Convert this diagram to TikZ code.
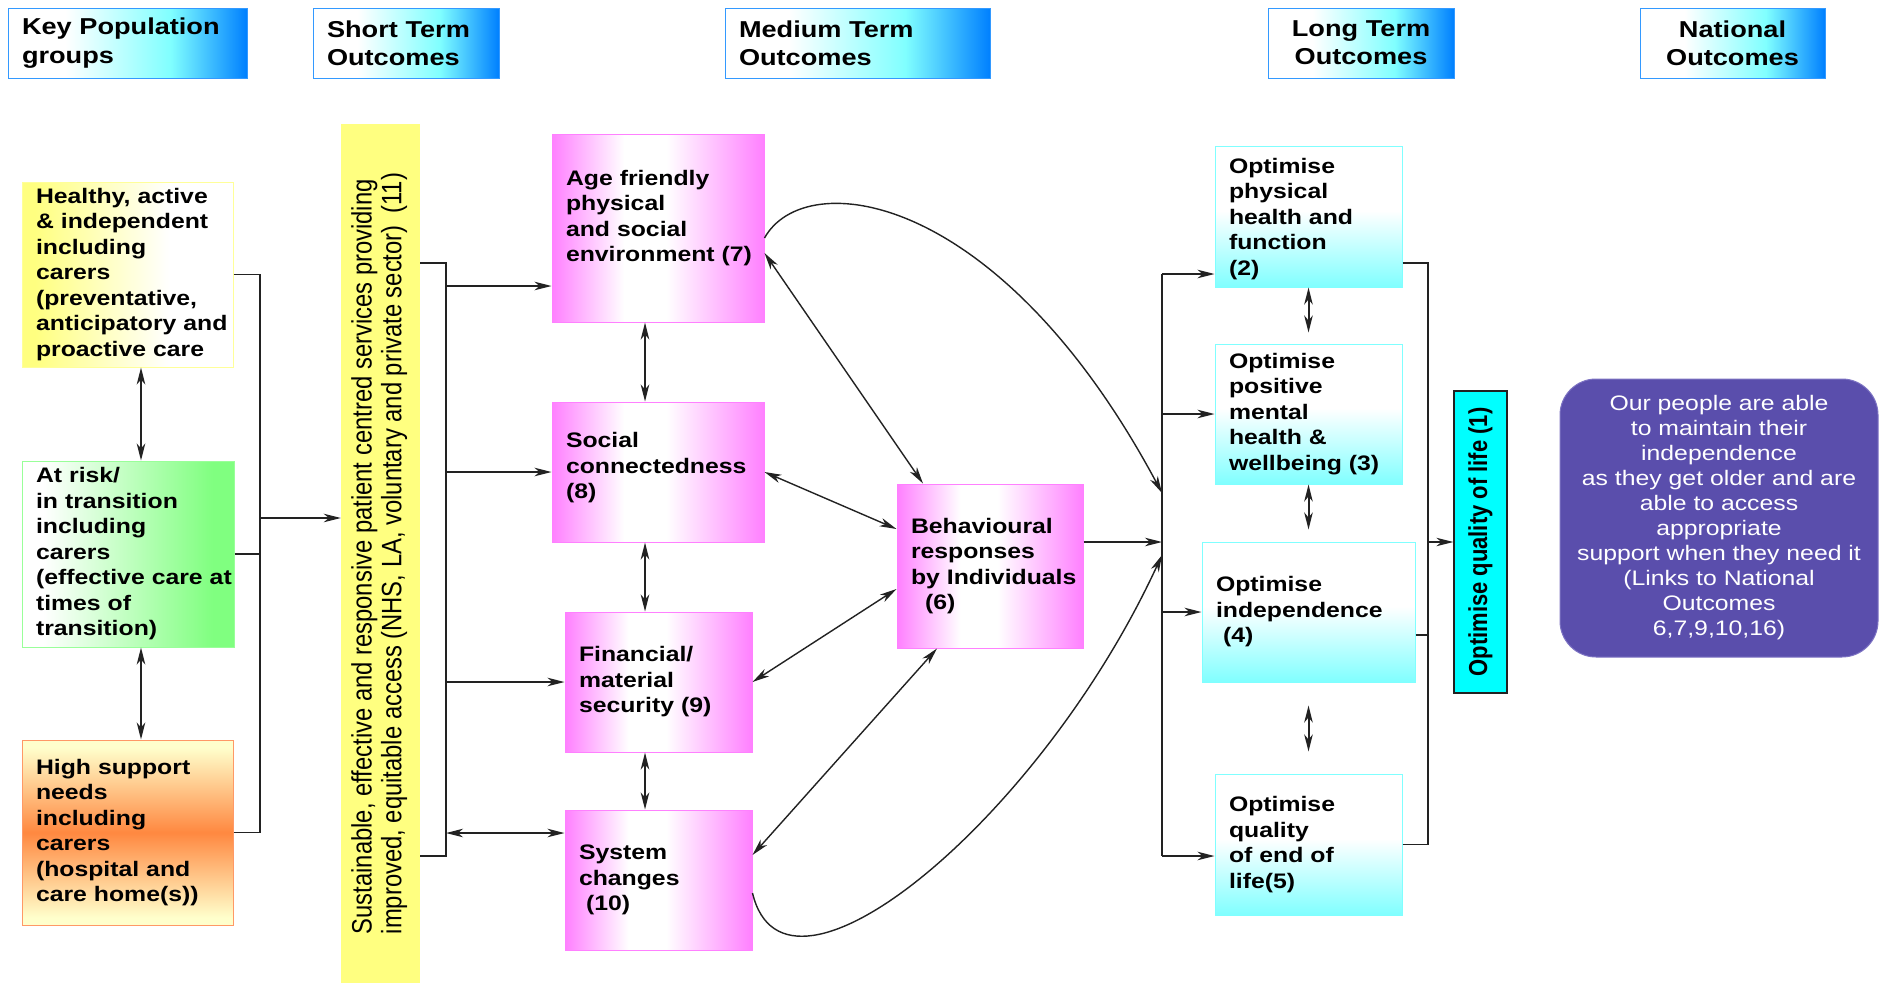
\documentclass[tikz,border=0pt]{standalone}
\usepackage{fontspec}
\usepackage{graphicx}
\usetikzlibrary{arrows.meta}
\setmainfont{Liberation Sans}[FakeStretch=1.18]
\newfontfamily\rotfont{Liberation Sans}

\definecolor{hcyan}{RGB}{128,255,255}
\definecolor{hblue}{RGB}{0,128,255}
\definecolor{hedge}{RGB}{51,153,255}
\definecolor{ky}{RGB}{255,255,128}
\definecolor{kyedge}{RGB}{255,255,153}
\definecolor{kg}{RGB}{128,255,128}
\definecolor{kgedge}{RGB}{153,255,153}
\definecolor{kpale}{RGB}{255,255,204}
\definecolor{ko}{RGB}{255,136,64}
\definecolor{koedge}{RGB}{255,153,102}
\definecolor{pk}{RGB}{255,128,255}
\definecolor{lc}{RGB}{128,255,255}
\definecolor{barY}{RGB}{255,255,128}
\definecolor{qcyan}{RGB}{0,255,255}
\definecolor{natfill}{RGB}{90,78,172}
\definecolor{natedge}{RGB}{125,115,195}
\definecolor{linec}{RGB}{34,34,34}

% shadings: the path's bounding box covers 25bp..75bp
\pgfdeclarehorizontalshading{hdrshade}{100bp}{color(0bp)=(white); color(37bp)=(white); color(59bp)=(hcyan); color(75bp)=(hblue); color(100bp)=(hblue)}
\pgfdeclarehorizontalshading{kyshade}{100bp}{color(0bp)=(ky); color(28bp)=(ky); color(60bp)=(white); color(100bp)=(white)}
\pgfdeclarehorizontalshading{kgshade}{100bp}{color(0bp)=(white); color(30bp)=(white); color(70bp)=(kg); color(100bp)=(kg)}
\pgfdeclareverticalshading{koshade}{100bp}{color(0bp)=(kpale); color(27bp)=(kpale); color(50bp)=(ko); color(73bp)=(kpale); color(100bp)=(kpale)}
\pgfdeclarehorizontalshading{pkshade}{100bp}{color(0bp)=(pk); color(25bp)=(pk); color(42bp)=(white); color(52bp)=(white); color(75bp)=(pk); color(100bp)=(pk)}
\pgfdeclareverticalshading{lcshade}{100bp}{color(0bp)=(lc); color(25bp)=(lc); color(52bp)=(white); color(100bp)=(white)}

\newcommand\boxfont{\fontsize{21pt}{25.5pt}\selectfont\bfseries}
\newcommand\hdrfont{\fontsize{23pt}{28.3pt}\selectfont\bfseries}
\newcommand\natfont{\fontsize{21pt}{25pt}\selectfont}
% left-indented box text; the closing \par keeps the indent on the last line
\newcommand\lpad[1]{\leftskip=14pt\rightskip=-60pt plus 1fil\relax #1\par}
% extra room under the text (a kern, so it survives the box's final \unskip)
\newcommand\bpad[1]{\par\kern#1\relax}

\tikzset{
  myhead/.tip={Stealth[length=17pt,width=8.5pt,inset=5pt]},
  linkline/.style={draw=linec, line width=1.4pt},
  arr/.style={linkline, -myhead},
  darr/.style={linkline, myhead-myhead},
  tdarr/.style={darr, line width=2pt},
  box/.style 2 args={rectangle, inner xsep=0pt, inner ysep=0pt,
    minimum width=#1, text width=#1, minimum height=#2,
    align=left, font=\boxfont, line width=1pt},
  hdr/.style={shade, shading=hdrshade, draw=hedge, font=\hdrfont},
  yellowbox/.style={shade, shading=kyshade, draw=kyedge},
  greenbox/.style={shade, shading=kgshade, draw=kgedge},
  orangebox/.style={shade, shading=koshade, draw=koedge},
  pinkbox/.style={shade, shading=pkshade, draw=pk},
  cyanbox/.style={shade, shading=lcshade, draw=lc},
}

\begin{document}
\begin{tikzpicture}[x=1pt,y=-1pt]
\fill[white] (0,0) rectangle (1881,985);
\useasboundingbox (0,0) rectangle (1881,985);

% column headers
\node[box={239pt}{70pt}, hdr] (h1) at (127.5,43) {\lpad{Key Population\\ groups}};
\node[box={186pt}{70pt}, hdr] (h2) at (406,43) {\lpad{Short Term\\ Outcomes}};
\node[box={265pt}{70pt}, hdr] (h3) at (857.5,43) {\lpad{Medium Term\\ Outcomes}};
\node[box={186pt}{70pt}, hdr, align=center] (h4) at (1361,43) {Long Term\\ Outcomes};
\node[box={185pt}{70pt}, hdr, align=center] (h5) at (1732.5,43) {National\\ Outcomes};

% key population groups
\node[box={211pt}{185pt}, yellowbox] (kp1) at (127.5,274.5)
  {\lpad{Healthy, active\\ \& independent\\ including\\ carers\\ (preventative,\\ anticipatory and\\ proactive care}};
\node[box={212pt}{186pt}, greenbox] (kp2) at (128,554)
  {\lpad{At risk/\\ in transition\\ including\\ carers\\ (effective care at\\ times of\\ transition)}};
\node[box={211pt}{185pt}, orangebox] (kp3) at (127.5,832.5)
  {\lpad{High support\\ needs\\ including\\ carers\\ (hospital and\\ care home(s))}};

% short term outcome bar
\node[fill=barY, minimum width=79pt, minimum height=859pt, inner sep=0pt] (svc) at (380.5,553.5)
  {\rotatebox{90}{\scalebox{1}[1.18]{\rotfont\fontsize{23.8pt}{25.4pt}\selectfont
   \begin{tabular}{@{}l@{}}Sustainable, effective and responsive patient centred services providing\\
   improved, equitable access (NHS, LA, voluntary and private sector)\hspace{0.5em}(11)\end{tabular}}}};

% medium term outcomes
\node[box={212pt}{188pt}, pinkbox] (m7) at (658,228)
  {\lpad{Age friendly\\ physical\\ and social\\ environment (7)\bpad{20pt}}};
\node[box={212pt}{140pt}, pinkbox] (m8) at (658,472)
  {\lpad{Social\\ connectedness\\ (8)\bpad{8pt}}};
\node[box={187pt}{140pt}, pinkbox] (m9) at (658.5,682)
  {\lpad{Financial/\\ material\\ security (9)}};
\node[box={187pt}{140pt}, pinkbox] (m10) at (658.5,880)
  {\lpad{System\\ changes\\ ~(10)}};
\node[box={186pt}{164pt}, pinkbox] (m6) at (990,566)
  {\lpad{Behavioural\\ responses\\ by Individuals\\ ~~(6)}};

% long term outcomes
\node[box={187pt}{141pt}, cyanbox] (L2) at (1308.5,216.5)
  {\lpad{Optimise\\ physical\\ health and\\ function\\ (2)\bpad{-5pt}}};
\node[box={187pt}{140pt}, cyanbox] (L3) at (1308.5,414)
  {\lpad{Optimise\\ positive\\ mental\\ health \&\\ wellbeing (3)}};
\node[box={213pt}{140pt}, cyanbox] (L4) at (1308.5,612)
  {\lpad{Optimise\\ independence\\ ~(4)}};
\node[box={187pt}{141pt}, cyanbox] (L5) at (1308.5,844.5)
  {\lpad{Optimise\\ quality\\ of end of\\ life(5)}};

% overall outcome bar
\node[fill=qcyan, draw=linec, line width=1.3pt, minimum width=53pt, minimum height=302pt, inner sep=0pt] (Q) at (1480.5,542)
  {\rotatebox{90}{\scalebox{1}[1.18]{\rotfont\bfseries\fontsize{22pt}{26pt}\selectfont Optimise quality of life (1)}}};

% national outcome
\node[fill=natfill, draw=natedge, line width=1pt, rounded corners=36pt, minimum width=318pt, minimum height=278pt,
      inner sep=0pt, align=center, text=white, font=\natfont] (N) at (1719,518)
  {Our people are able\\ to maintain their\\ independence\\ as they get older and are\\ able to access\\ appropriate\\
   support when they need it\\ (Links to National\\ Outcomes\\ 6,7,9,10,16)};

% junctions and guide columns
\coordinate (cK) at (141,0);
\coordinate (jL) at (260,518);
\coordinate (jS1) at (446,263);
\coordinate (jS2) at (446,856);
\coordinate (cM) at (645,0);
\coordinate (jR1) at (1162,274);
\coordinate (jR2) at (1162,856);
\coordinate (k1) at (1162,493);
\coordinate (k2) at (1162,555);
\coordinate (jQ) at (1428,542);
\coordinate (e7) at ([yshift=-58pt]m7.west);
\coordinate (e10) at ([yshift=47pt]m10.west);
\coordinate (r6) at ([yshift=24pt]m6.east);

% population groups
\draw[tdarr] (kp1.south -| cK) -- (kp2.north -| cK);
\draw[tdarr] (kp2.south -| cK) -- (kp3.north -| cK);
\draw[linkline] (kp1.east) -| (jL);
\draw[linkline] (kp3.east) -| (jL);
\draw[linkline] (kp2.east) -- (kp2.east -| jL);
\draw[arr] (jL) -- (jL -| svc.west);

% short term to medium term
\draw[linkline] (svc.east |- jS1) -- (jS1) -- (jS2) -- (svc.east |- jS2);
\draw[arr] (e7 -| jS1) -- (e7);
\draw[arr] (m8.west -| jS1) -- (m8.west);
\draw[arr] (m9.west -| jS1) -- (m9.west);
\draw[darr] (e10 -| jS1) -- (e10);

% medium term links
\draw[tdarr] (m7.south -| cM) -- (m8.north -| cM);
\draw[tdarr] (m8.south -| cM) -- (m9.north -| cM);
\draw[tdarr] (m9.south -| cM) -- (m10.north -| cM);
\draw[darr] ([yshift=-25pt]m7.east) -- ([xshift=-67pt]m6.north);
\draw[darr] (m8.east) -- ([yshift=37pt]m6.west);
\draw[darr] (m9.east) -- ([yshift=-23pt]m6.west);
\draw[darr] ([yshift=25pt]m10.east) -- ([xshift=-53pt]m6.south);

% medium term to long term
\draw[arr] ([yshift=-10pt]m7.east) .. controls (805,165) and (1000,190) .. (k1);
\draw[arr] ([yshift=-13pt]m10.east) .. controls (785,1030) and (1040,820) .. (k2);
\draw[arr] (r6) -- (r6 -| jR1);
\draw[linkline] (jR1) -- (jR2);
\draw[arr] (jR1) -- (jR1 -| L2.west);
\draw[arr] (L3.west -| jR1) -- (L3.west);
\draw[arr] (L4.west -| jR1) -- (L4.west);
\draw[arr] (jR2) -- (jR2 -| L5.west);

% long term links
\draw[tdarr, shorten >=11pt] (L2.south) -- (L3.north);
\draw[tdarr, shorten >=12pt] (L3.south) -- (L4.north);
\draw[tdarr, shorten <=23pt, shorten >=22pt] (L4.south) -- (L5.north);

% long term to quality of life
\draw[linkline] ([yshift=-46.5pt]L2.east) -| (jQ);
\draw[linkline] (L5.east) -| (jQ);
\draw[linkline] ([yshift=-23pt]L4.east) -- ([yshift=-23pt]L4.east -| jQ);
\draw[arr] (jQ) -- (Q.west);
\end{tikzpicture}
\end{document}
